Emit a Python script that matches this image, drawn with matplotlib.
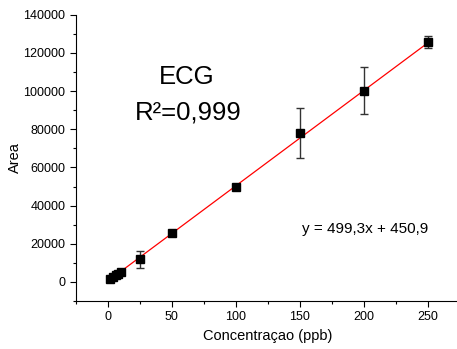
import matplotlib
matplotlib.use("Agg")
import matplotlib.pyplot as plt
from matplotlib.ticker import MultipleLocator

plt.rcParams['font.family'] = ['Liberation Sans', 'DejaVu Sans']

conc = [2, 4, 6, 8, 10, 25, 50, 100, 150, 200, 250]
area = [1600, 2500, 3400, 4300, 5200, 11800, 25800, 49800, 78000, 100300, 125800]
err = [300, 300, 300, 300, 400, 4300, 800, 600, 13000, 12300, 3100]
slope = 499.3
intercept = 450.9
fit_x = [2, 250]

fig = plt.figure(figsize=(4.57, 3.49), dpi=100)
ax = fig.add_axes([0.166, 0.1375, 0.84, 0.82])

fit_y = [slope * x + intercept for x in fit_x]
ax.plot(fit_x, fit_y, color='red', lw=0.9, zorder=2)
ax.errorbar(conc, area, yerr=err, fmt='s', color='black', ms=5.2,
            ecolor='#333333', elinewidth=1.0, capsize=3, capthick=1.0, zorder=3)

ax.set_xlim(-25, 275)
ax.set_ylim(-10000, 140000)
ax.xaxis.set_major_locator(MultipleLocator(50))
ax.xaxis.set_minor_locator(MultipleLocator(25))
ax.yaxis.set_major_locator(MultipleLocator(20000))
ax.yaxis.set_minor_locator(MultipleLocator(10000))
ax.spines['top'].set_visible(False)
ax.spines['right'].set_visible(False)
ax.tick_params(which='major', direction='out', length=4, width=0.8, labelsize=9)
ax.tick_params(which='minor', direction='out', length=2.5, width=0.8)
ax.set_xlabel('Concentraçao (ppb)', fontsize=10.5, labelpad=4)
ax.set_ylabel('Area', fontsize=10.5, labelpad=1)

ax.text(0.289, 0.783, 'ECG', transform=ax.transAxes, fontsize=18.5, ha='center', va='center')
ax.text(0.292, 0.657, 'R²=0,999', transform=ax.transAxes, fontsize=18.5, ha='center', va='center')
ax.text(201, 28000, 'y = 499,3x + 450,9', fontsize=11, ha='center', va='center')

fig.savefig('out.png', dpi=100)
